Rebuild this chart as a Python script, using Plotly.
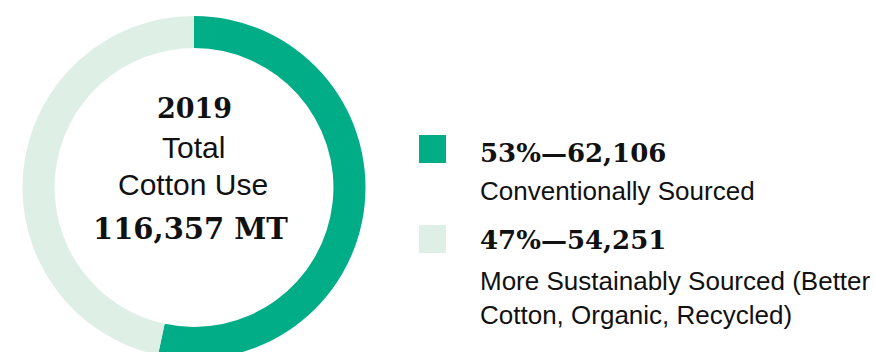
import plotly.graph_objects as go

# Data
categories = ["Conventionally Sourced",
              "More Sustainably Sourced (Better Cotton, Organic, Recycled)"]
values = [62106, 54251]
percents = ["53%", "47%"]
value_labels = ["62,106", "54,251"]
year = "2019"
total_label = "116,357 MT"
colors = ["#00ad87", "#deefe5"]

W, H = 875, 360


def px(x):
    return x / W


def py(y):
    return 1 - y / H


fig = go.Figure()
fig.add_trace(go.Pie(
    labels=categories, values=values, hole=0.813, sort=False,
    direction="clockwise", rotation=0,
    marker=dict(colors=colors, line=dict(width=0)),
    textinfo="none", hoverinfo="label+value+percent",
    domain=dict(x=[px(22.5), px(365.5)], y=[py(359), py(16)]),
    showlegend=False,
))

serif = "DejaVu Serif"
sans = "Liberation Sans"

anns = []
# center text
anns.append(dict(x=px(194), y=py(108), text="<b>" + year + "</b>",
                 font=dict(family=serif, size=27, color="#111")))
anns.append(dict(x=px(193), y=py(147), text="Total",
                 font=dict(family=sans, size=30, color="#111")))
anns.append(dict(x=px(193), y=py(185), text="Cotton Use",
                 font=dict(family=sans, size=30, color="#111")))
anns.append(dict(x=px(190), y=py(229), text="<b>" + total_label + "</b>",
                 font=dict(family=serif, size=29, color="#111")))

# legend
shapes = []
sq_tops = [135, 225]
head_y = [153, 240]
sub_lines = [["Conventionally Sourced"],
             ["More Sustainably Sourced (Better", "Cotton, Organic, Recycled)"]]
sub_y = [[191], [281, 315]]
for i in range(2):
    shapes.append(dict(type="rect", xref="paper", yref="paper",
                       x0=px(419), x1=px(446), y0=py(sq_tops[i] + 28), y1=py(sq_tops[i]),
                       fillcolor=colors[i], line=dict(width=0)))
    anns.append(dict(x=px(478), y=py(head_y[i]), xanchor="left",
                     text="<b>" + percents[i] + "\u2014" + value_labels[i] + "</b>",
                     font=dict(family=serif, size=26, color="#111")))
    for t, yy in zip(sub_lines[i], sub_y[i]):
        anns.append(dict(x=px(478), y=py(yy), xanchor="left", text=t,
                         font=dict(family=sans, size=26, color="#111")))

for a in anns:
    a.update(xref="paper", yref="paper", showarrow=False, yanchor="middle")
    a.setdefault("xanchor", "center")

fig.update_layout(width=W, height=H, margin=dict(l=0, r=0, t=0, b=0),
                  paper_bgcolor="white", plot_bgcolor="white",
                  annotations=anns, shapes=shapes)
fig.write_html("out.html", config={"displayModeBar": False},
               post_script="document.body.style.margin='0';"
                           "document.body.style.overflow='hidden';")
